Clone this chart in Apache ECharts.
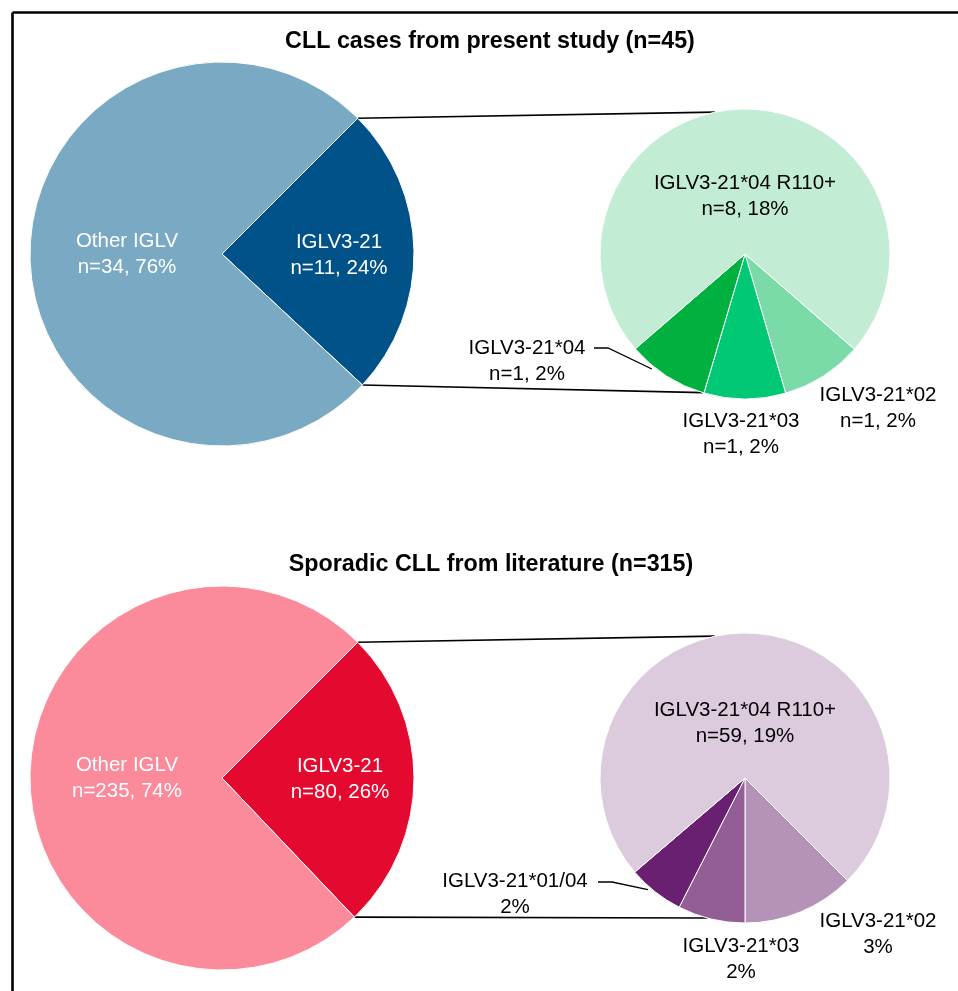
<!DOCTYPE html>
<html><head><meta charset="utf-8">
<script src="https://cdn.jsdelivr.net/npm/echarts@6/dist/echarts.min.js"></script>
<style>html,body{margin:0;padding:0;background:#fff}#c{width:958px;height:991px}</style>
</head><body><div id="c"></div>
<script>
// ---- Data ----
const topTitle = 'CLL cases from present study (n=45)';
const topMainNames = ['IGLV3-21', 'Other IGLV'];
const topMainCounts = [11, 34];
const topMainPct = [24, 76];
const topSubNames = ['IGLV3-21*02', 'IGLV3-21*03', 'IGLV3-21*04', 'IGLV3-21*04 R110+'];
const topSubCounts = [1, 1, 1, 8];
const topSubPct = [2, 2, 2, 18];
const topSubShowN = [true, true, true, true];

const botTitle = 'Sporadic CLL from literature (n=315)';
const botMainNames = ['IGLV3-21', 'Other IGLV'];
const botMainCounts = [80, 235];
const botMainPct = [26, 74];
const botSubNames = ['IGLV3-21*02', 'IGLV3-21*03', 'IGLV3-21*01/04', 'IGLV3-21*04 R110+'];
const botSubCounts = [10, 6, 5, 59];
const botSubPct = [3, 2, 2, 19];
const botSubShowN = [false, false, false, true];

// ---- Styles / layout ----
const FONT = '"Liberation Sans", Arial, Helvetica, sans-serif';
const topMainColors = ['#005288', '#7aaac3'];
const topSubColors = ['#7adba8', '#00c875', '#00b140', '#c2ecd3'];
const botMainColors = ['#e4092e', '#fb8a9b'];
const botSubColors = ['#b592b8', '#935d95', '#6a2070', '#dccadd'];

const R1 = 192, R2 = 145;
const topY = 254, botY = 778;
const mainX = 222, subX = 745;

function pieSeries(names, counts, pcts, showN, colors, center, radius, startAngle, labelPos, labelColor) {
  return {
    type: 'pie', center: center, radius: radius, startAngle: startAngle, clockwise: true,
    silent: true, animation: false, avoidLabelOverlap: false,
    data: names.map((n, i) => ({ name: n, value: counts[i], itemStyle: { color: colors[i] } })),
    itemStyle: { borderColor: '#fff', borderWidth: 1 },
    label: {
      show: true, position: 'inside', color: labelColor, fontFamily: FONT, fontSize: 20.5,
      lineHeight: 26, align: 'center',
      formatter: p => p.name + '\n' + (showN[p.dataIndex] ? 'n=' + counts[p.dataIndex] + ', ' : '') + pcts[p.dataIndex] + '%'
    },
    labelLine: { show: false },
    labelLayout: p => ({ x: labelPos[p.dataIndex][0], y: labelPos[p.dataIndex][1], align: 'center', verticalAlign: 'middle' })
  };
}

function pt(cx, cy, r, deg) {
  const a = deg * Math.PI / 180;
  return [cx + r * Math.cos(a), cy - r * Math.sin(a)];
}
function sumArr(a) { return a.reduce((s, v) => s + v, 0); }

const topMainStart = 45;
const topMainEnd = topMainStart - 360 * topMainCounts[0] / sumArr(topMainCounts);
const botMainStart = 45;
const botMainEnd = botMainStart - 360 * botMainCounts[0] / sumArr(botMainCounts);
const topSubStart = -41;
const botSubStart = -45;

const lineStyle = { stroke: '#000', lineWidth: 1.6 };
const leaderStyle = { stroke: '#000', lineWidth: 1.3, fill: null };

function connector(a, b) {
  return { type: 'line', shape: { x1: a[0], y1: a[1], x2: b[0], y2: b[1] }, style: lineStyle, silent: true };
}

const graphics = [
  { type: 'line', shape: { x1: 12.5, y1: 12.5, x2: 958, y2: 12.5 }, style: { stroke: '#000', lineWidth: 2.6 } },
  { type: 'line', shape: { x1: 12.5, y1: 12.5, x2: 12.5, y2: 991 }, style: { stroke: '#000', lineWidth: 2.6 } },
  connector(pt(mainX, topY, R1, topMainStart), pt(subX, topY, R2, 102)),
  connector(pt(mainX, topY, R1, topMainEnd), pt(subX, topY, R2, -107)),
  connector(pt(mainX, botY, R1, botMainStart), pt(subX, botY, R2, 102)),
  connector(pt(mainX, botY, R1, botMainEnd), pt(subX, botY, R2, -105)),
  { type: 'polyline', shape: { points: [[594, 348], [608, 348], pt(subX, topY, R2 + 3, -129)] }, style: leaderStyle },
  { type: 'polyline', shape: { points: [[598, 882], [612, 882], pt(subX, botY, R2 + 3, -131)] }, style: leaderStyle }
];

const chart = echarts.init(document.getElementById('c'), null, { renderer: 'canvas' });
chart.setOption({
  backgroundColor: '#fff',
  animation: false,
  title: [
    { text: topTitle, left: 490, top: 30, textAlign: 'center', padding: 0,
      textStyle: { fontFamily: FONT, fontSize: 23.3, fontWeight: 'bold', color: '#000' } },
    { text: botTitle, left: 491, top: 553, textAlign: 'center', padding: 0,
      textStyle: { fontFamily: FONT, fontSize: 23.3, fontWeight: 'bold', color: '#000' } }
  ],
  series: [
    pieSeries(topMainNames, topMainCounts, topMainPct, [true, true], topMainColors, [mainX, topY], R1, topMainStart,
      [[339, 255], [127, 254]], '#fff'),
    pieSeries(topSubNames, topSubCounts, topSubPct, topSubShowN, topSubColors, [subX, topY], R2, topSubStart,
      [[878, 408], [741, 434], [527, 361], [745, 196]], '#000'),
    pieSeries(botMainNames, botMainCounts, botMainPct, [true, true], botMainColors, [mainX, botY], R1, botMainStart,
      [[340, 779], [127, 778]], '#fff'),
    pieSeries(botSubNames, botSubCounts, botSubPct, botSubShowN, botSubColors, [subX, botY], R2, botSubStart,
      [[878, 934], [741, 959], [515, 894], [745, 723]], '#000')
  ],
  graphic: { elements: graphics }
});
</script>
</body></html>
